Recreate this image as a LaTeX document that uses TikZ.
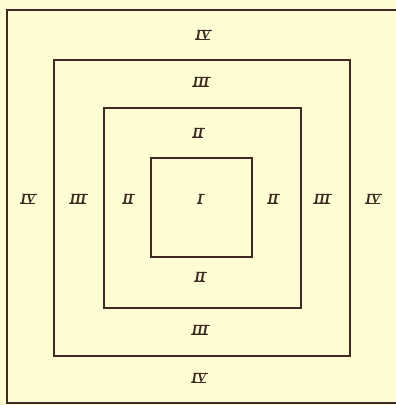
\documentclass[tikz,border=0pt]{standalone}
\usepackage{fontspec}
\setmainfont{Liberation Serif}
\definecolor{paper}{HTML}{FEFCD2}
\definecolor{ink}{HTML}{3E2A22}
\newcommand\rnum[1]{\setbox0\hbox{\itshape\bfseries #1}%
  \rlap{\hspace{-0.5pt}\raisebox{-0.3pt}{\rule{\wd0}{1pt}}}%
  \rlap{\hspace{2pt}\raisebox{\dimexpr\ht0-0.7pt}{\rule{\wd0}{1pt}}}\box0}
\begin{document}
\begin{tikzpicture}[x=1pt,y=-1pt,
  sq/.style={draw=ink,line width=1.6pt,inner sep=0pt,minimum size=0pt},
  lab/.style={text=ink,font=\fontsize{14}{14}\selectfont,inner sep=0pt}]
\fill[paper] (0,0) rectangle (396,405);
\useasboundingbox (0,0) rectangle (396,405);
\begin{scope}
\clip (0,0) rectangle (396,405);
\draw[ink,line width=1.6pt] (7,10) rectangle (402,403);
\end{scope}
\node[sq,minimum width=296pt,minimum height=296pt] (s3) at (202,208) {};
\node[sq,minimum width=197pt,minimum height=200pt] (s2) at (202.5,208) {};
\node[sq,minimum width=101pt,minimum height=99pt] (s1) at (201.5,207.5) {};
\node[lab] (l1) at (200,199) {\rnum{I}};
\node[lab] (t2) at (198,133) {\rnum{II}};
\node[lab] (b2) at (200,277) {\rnum{II}};
\node[lab] (w2) at (128,199) {\rnum{II}};
\node[lab] (e2) at (273,199) {\rnum{II}};
\node[lab] (t3) at (201,82) {\rnum{III}};
\node[lab] (b3) at (200,330) {\rnum{III}};
\node[lab] (w3) at (78,199) {\rnum{III}};
\node[lab] (e3) at (322,199) {\rnum{III}};
\node[lab] (t4) at (203,35) {\rnum{IV}};
\node[lab] (b4) at (199,378) {\rnum{IV}};
\node[lab] (w4) at (28,199) {\rnum{IV}};
\node[lab] (e4) at (373,199) {\rnum{IV}};
\end{tikzpicture}
\end{document}
